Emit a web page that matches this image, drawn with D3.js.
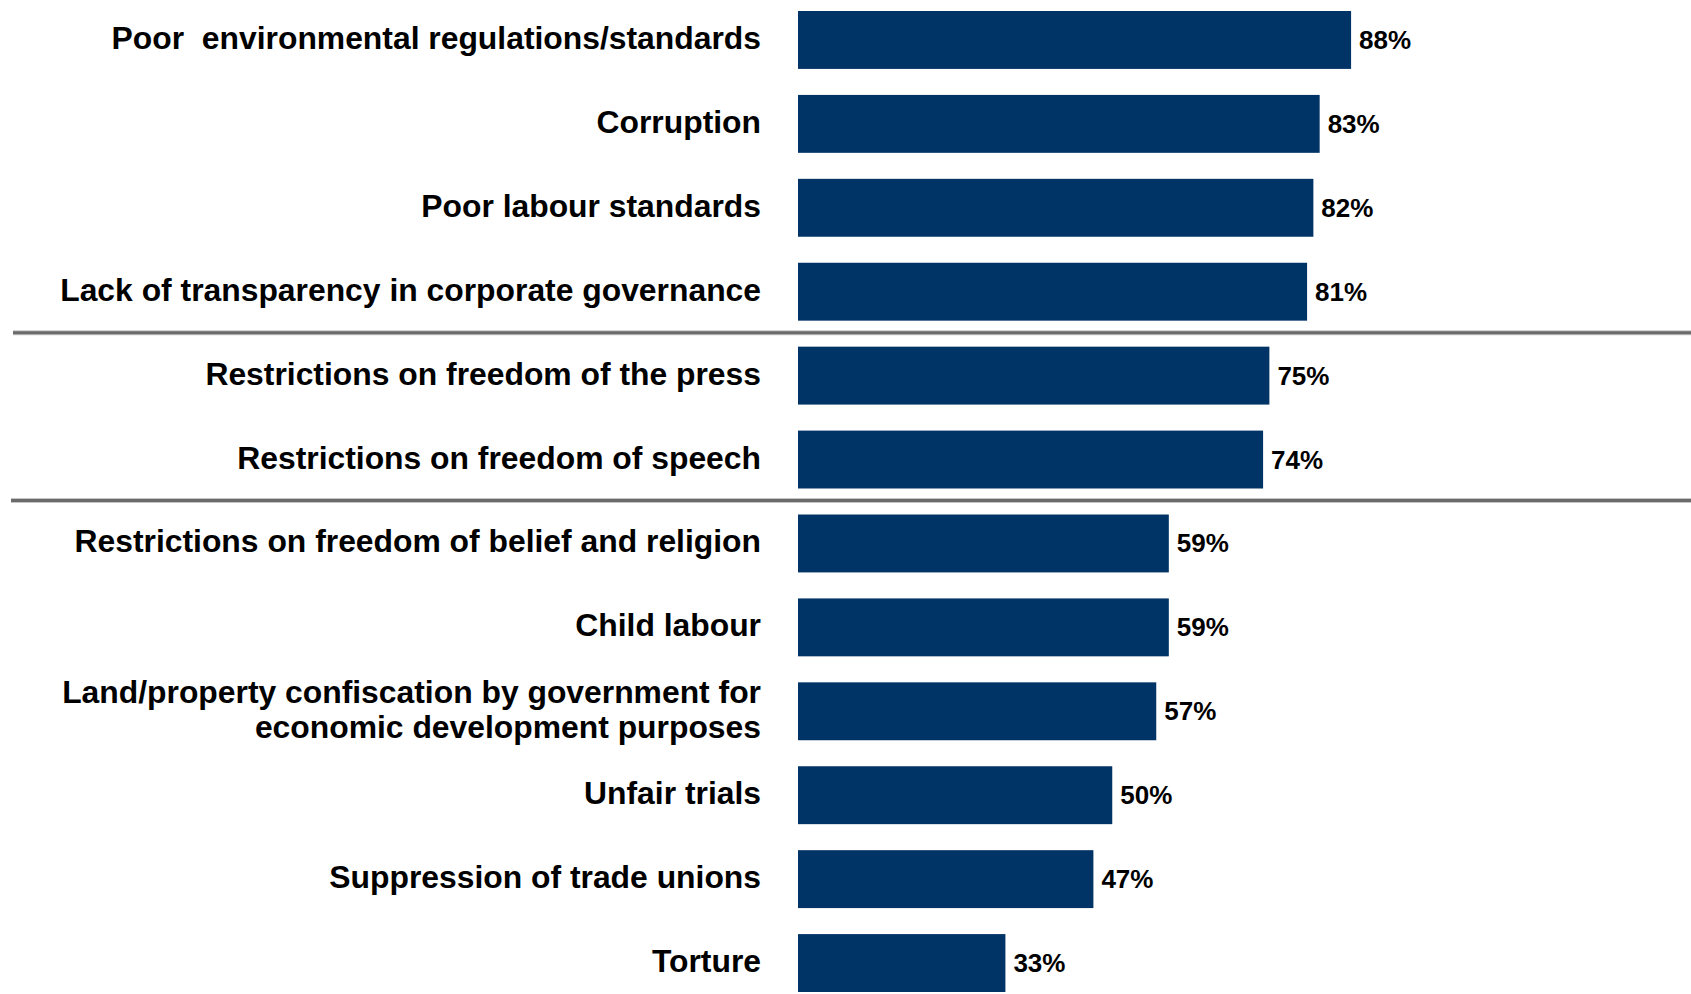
<!DOCTYPE html>
<html lang="en">
  <head>
    <meta charset="utf-8">
    <script src="https://d3js.org/d3.v7.min.js"></script>
    <style>
      body {margin: 0; background: white;}
      text {font-family: "Liberation Sans", Arial, sans-serif; font-weight: bold; fill: #000;}
      .label {font-size: 31.85px; white-space: pre;}
      .value {font-size: 26px;}
      rect.bar {fill: #003366;}
    </style>
  </head>
  <body>
    <script type="text/javascript">
      // chart data
      const categories = [
        "Poor  environmental regulations/standards",
        "Corruption",
        "Poor labour standards",
        "Lack of transparency in corporate governance",
        "Restrictions on freedom of the press",
        "Restrictions on freedom of speech",
        "Restrictions on freedom of belief and religion",
        "Child labour",
        "Land/property confiscation by government for\neconomic development purposes",
        "Unfair trials",
        "Suppression of trade unions",
        "Torture"
      ];
      const values = [88, 83, 82, 81, 75, 74, 59, 59, 57, 50, 47, 33];
      // a divider line is drawn after these categories
      const dividersAfter = [
        "Lack of transparency in corporate governance",
        "Restrictions on freedom of speech"
      ];

      // size constants
      const w = 1691;
      const h = 994;
      const barLeft = 798;
      const labelRight = 761;

      var svg = d3.select("body")
            .append("svg")
            .attr("width", w)
            .attr("height", h);

      // scales
      var xScale = d3.scaleLinear()
            .domain([0, 100])
            .range([barLeft, barLeft + 628.5]);
      var yScale = d3.scaleBand()
            .domain(categories)
            .range([-2, 1005])
            .paddingInner(0.31)
            .paddingOuter(0.155);

      const step = yScale.step();
      const gap = step - yScale.bandwidth();

      // divider lines between groups
      dividersAfter.forEach(function(cat, i) {
        let y = yScale(cat) + yScale.bandwidth() + gap / 2 - 1;
        svg.append("line")
          .attr("x1", i == 0 ? 13 : 11)
          .attr("x2", w)
          .attr("y1", y)
          .attr("y2", y)
          .attr("stroke", "#c4c4c4")
          .attr("stroke-width", 5);
        svg.append("line")
          .attr("x1", i == 0 ? 13 : 11)
          .attr("x2", w)
          .attr("y1", y)
          .attr("y2", y)
          .attr("stroke", "#6b6b6b")
          .attr("stroke-width", 3);
      });

      // bars
      svg.selectAll("rect.bar")
        .data(values)
        .enter()
        .append("rect")
        .attr("class", "bar")
        .attr("x", xScale(0))
        .attr("y", function(d, i) { return yScale(categories[i]); })
        .attr("width", function(d) { return xScale(d) - xScale(0); })
        .attr("height", yScale.bandwidth());

      // value labels
      svg.selectAll("text.value")
        .data(values)
        .enter()
        .append("text")
        .attr("class", "value")
        .attr("x", function(d) { return xScale(d) + 8; })
        .attr("y", function(d, i) { return yScale(categories[i]) + yScale.bandwidth() / 2 + 9; })
        .text(function(d) { return d + "%"; });

      // category labels, may span two lines
      var labels = svg.selectAll("text.label")
        .data(categories)
        .enter()
        .append("text")
        .attr("class", "label")
        .attr("text-anchor", "end")
        .attr("y", function(d) {
          let lines = d.split("\n").length;
          return yScale(d) + yScale.bandwidth() / 2 + 9 - (lines - 1) * 34.6 / 2;
        });
      labels.each(function(d) {
        let t = d3.select(this);
        d.split("\n").forEach(function(line, j) {
          t.append("tspan")
            .attr("x", labelRight)
            .attr("dy", j == 0 ? 0 : 34.6)
            .text(line);
        });
      });
    </script>
  </body>
</html>
